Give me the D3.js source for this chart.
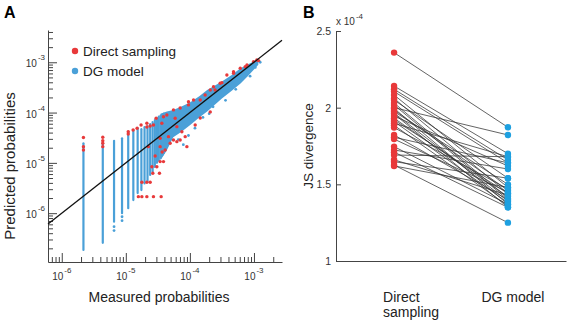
<!DOCTYPE html>
<html>
<head>
<meta charset="utf-8">
<script src="https://cdn.jsdelivr.net/npm/d3@7"></script>
<style>
  body { margin: 0; background: #fff; }
  svg { font-family: "Liberation Sans", Arial, sans-serif; }
</style>
</head>
<body>
<script>
// ---- panel A data ----
// DG model: vertical columns at the lowest measured counts
const colMeasured = [2.18e-6, 4.37e-6, 6.55e-6, 8.73e-6, 1.09e-5, 1.31e-5, 1.53e-5, 1.75e-5, 1.96e-5,
                     2.18e-5, 2.40e-5, 2.62e-5, 2.84e-5, 3.06e-5, 3.27e-5, 3.49e-5, 3.71e-5, 3.93e-5];
const colLow  = [1.86e-7, 2.57e-7, 6.76e-7, 1.0e-6, 1.26e-6, 1.82e-6, 2.51e-6, 2.88e-6, 3.89e-6,
                 4.27e-6, 5.75e-6, 6.76e-6, 8.32e-6, 1.0e-5, 1.12e-5, 1.26e-5, 1.41e-5, 1.58e-5];
const colHigh = [2.45e-5, 2.51e-5, 2.75e-5, 3.09e-5, 4.17e-5, 4.47e-5, 4.9e-5, 4.68e-5, 5.13e-5,
                 5.37e-5, 5.89e-5, 6.46e-5, 7.08e-5, 7.76e-5, 8.3e-5, 8.7e-5, 9.1e-5, 9.5e-5];
// DG model: dense cloud at higher measured probabilities
const bandMeasured = [3.47e-5, 4.37e-5, 5.5e-5, 7.4e-5, 1.0e-4, 1.4e-4, 1.86e-4, 3.16e-4, 4.5e-4, 6.17e-4, 8.0e-4, 1.0e-3, 1.17e-3];
const bandLow  = [1.12e-5, 1.78e-5, 3.24e-5, 4.17e-5, 5.6e-5, 8.0e-5, 1.05e-4, 1.9e-4, 2.7e-4, 3.8e-4, 5.3e-4, 7.2e-4, 8.9e-4];
const bandHigh = [9.5e-5, 1.05e-4, 1.12e-4, 1.32e-4, 1.58e-4, 2.1e-4, 2.82e-4, 4.17e-4, 5.6e-4, 7.6e-4, 9.0e-4, 1.05e-3, 1.12e-3];
// DG model: isolated points [measured, predicted]
const dgExtra = [[6.55e-6, 5.4e-7], [6.55e-6, 4.5e-7], [8.73e-6, 8.5e-7], [8.73e-6, 7.1e-7],
                 [9.5e-5, 3.5e-5], [7.9e-5, 2.3e-5], [1.6e-4, 8.0e-5], [2.3e-4, 1.3e-4],
                 [1.2e-4, 4.9e-5], [2.0e-4, 9.5e-5], [3.6e-4, 1.75e-4], [5.2e-4, 2.9e-4],
                 [8.7e-4, 5.3e-4], [1.05e-3, 7.9e-4], [1.25e-3, 1.0e-3], [6.6e-5, 2.9e-5]];
// direct sampling points [measured, predicted]
const directPoints = [
  [2.18e-6, 3.20e-5], [2.18e-6, 2.10e-5], [2.18e-6, 1.80e-5], [4.37e-6, 3.23e-5], [4.37e-6, 2.76e-5],
  [4.37e-6, 2.45e-5], [4.37e-6, 2.10e-5], [1.09e-5, 4.17e-5], [1.09e-5, 3.76e-5], [1.30e-5, 4.51e-5],
  [1.50e-5, 4.88e-5], [1.73e-5, 5.67e-5], [2.13e-5, 6.13e-5], [2.13e-5, 5.18e-5], [2.40e-5, 5.42e-5],
  [2.70e-5, 5.67e-5], [2.97e-5, 7.71e-5], [3.65e-5, 6.13e-5], [3.87e-5, 8.28e-5], [4.37e-5, 8.95e-5],
  [5.54e-5, 1.13e-4], [5.89e-5, 7.71e-5], [7.05e-5, 1.23e-4], [9.51e-5, 1.42e-4], [9.51e-5, 1.65e-4],
  [1.14e-4, 1.78e-4], [1.45e-4, 1.78e-4], [1.73e-4, 2.24e-4], [2.08e-4, 2.81e-4], [2.48e-4, 2.81e-4],
  [2.34e-4, 3.27e-4], [2.97e-4, 3.83e-4], [3.16e-4, 3.93e-4], [3.78e-4, 5.60e-4], [4.80e-4, 6.50e-4],
  [4.80e-4, 6.04e-4], [6.11e-4, 7.60e-4], [7.31e-4, 8.18e-4], [7.78e-4, 8.83e-4], [9.86e-4, 1.03e-3],
  [1.11e-3, 1.11e-3], [1.18e-3, 1.08e-3],
  [2.25e-5, 2.10e-5], [3.43e-5, 2.10e-5], [3.43e-5, 3.08e-5], [4.63e-5, 3.32e-5], [4.92e-5, 2.45e-5],
  [5.54e-5, 2.85e-5], [6.26e-5, 5.25e-5], [6.26e-5, 2.64e-5], [7.05e-5, 2.85e-5], [8.45e-5, 3.32e-5],
  [8.98e-5, 2.10e-5], [7.50e-5, 4.17e-5], [1.21e-4, 5.67e-5], [1.45e-4, 7.82e-5], [2.08e-4, 1.03e-4],
  [1.57e-5, 2.13e-6], [1.78e-5, 2.13e-6], [2.13e-5, 2.13e-6], [2.70e-5, 2.13e-6], [3.56e-5, 2.13e-6],
  [1.78e-5, 4.11e-6], [2.13e-5, 4.11e-6], [2.40e-5, 4.11e-6], [2.64e-5, 6.21e-6], [3.35e-5, 6.21e-6],
  [2.55e-5, 8.40e-6], [3.05e-5, 8.40e-6], [3.43e-5, 1.06e-5], [3.87e-5, 1.06e-5], [2.87e-5, 1.37e-5],
  [3.69e-5, 1.65e-5], [4.11e-5, 1.80e-5]
];
const decades = [1e-6, 1e-5, 1e-4, 1e-3];

// ---- panel B data (x 10^-4) ----
const groups = ["Direct sampling", "DG model"];
const jsDirect = [2.359, 2.141, 2.120, 2.105, 2.083, 2.060, 2.050, 2.030, 2.018, 2.000, 1.995,
                  1.985, 1.975, 1.965, 1.959, 1.945, 1.931, 1.920, 1.910, 1.898, 1.885, 1.870,
                  1.822, 1.807, 1.795, 1.746, 1.724, 1.710, 1.691, 1.660, 1.648, 1.626, 1.620];
const jsDG = [1.872, 1.700, 1.660, 1.640, 1.480, 1.440, 1.540, 1.410, 1.400, 1.822, 1.370,
              1.460, 1.500, 1.390, 1.350, 1.620, 1.420, 1.440, 1.380, 1.680, 1.360, 1.470,
              1.400, 1.640, 1.450, 1.370, 1.600, 1.350, 1.680, 1.430, 1.540, 1.250, 1.480];
const jsTicks = [1, 1.5, 2, 2.5];

const red = "#e8393a", blueA = "#4aa0d8", blueB = "#1ea0e0";

const svg = d3.select("body").append("svg")
  .attr("width", 567).attr("height", 321);

// ================= panel A =================
const xA = d3.scaleLog().domain([6.1e-7, 2.74e-3]).range([48, 282]);
const yA = d3.scaleLog().domain([1.07e-7, 4.38e-3]).range([262, 30]);
const isMajor = t => Math.abs(Math.log10(t) - Math.round(Math.log10(t))) < 1e-6;

const gA = svg.append("g");

// axes (ticks point inward)
gA.append("g").attr("transform", "translate(0,262)")
  .call(d3.axisBottom(xA).tickValues(xA.ticks().filter(t => !isMajor(t)))
    .tickSizeInner(-5).tickSizeOuter(0).tickFormat(""));
gA.append("g").attr("transform", "translate(0,262)")
  .call(d3.axisBottom(xA).tickValues(decades).tickSizeInner(-9).tickSizeOuter(0).tickFormat(""))
  .select(".domain").remove();
gA.append("g").attr("transform", "translate(48,0)")
  .call(d3.axisLeft(yA).tickValues(yA.ticks().filter(t => !isMajor(t)))
    .tickSizeInner(-5).tickSizeOuter(0).tickFormat(""));
gA.append("g").attr("transform", "translate(48,0)")
  .call(d3.axisLeft(yA).tickValues(decades).tickSizeInner(-9).tickSizeOuter(0).tickFormat(""))
  .select(".domain").remove();
gA.selectAll(".domain, .tick line").attr("stroke", "#444");

// tick labels 10^n
decades.forEach(d => {
  const e = Math.round(Math.log10(d));
  const tx = gA.append("text").attr("x", xA(d)).attr("y", 280)
    .attr("text-anchor", "middle").attr("font-size", 10).attr("fill", "#333");
  tx.append("tspan").text("10");
  tx.append("tspan").attr("dx", 1).attr("dy", -7).attr("font-size", 8).text(e);
  const ty = gA.append("text").attr("x", 45).attr("y", yA(d) + 5)
    .attr("text-anchor", "end").attr("font-size", 10).attr("fill", "#333");
  ty.append("tspan").text("10");
  ty.append("tspan").attr("dx", 1).attr("dy", -7).attr("font-size", 8).text(e);
});

// DG cloud
gA.append("path")
  .datum(bandMeasured.map((m, i) => ({ m, lo: bandLow[i], hi: bandHigh[i] })))
  .attr("fill", blueA)
  .attr("d", d3.area().x(d => xA(d.m)).y0(d => yA(d.lo)).y1(d => yA(d.hi)));

// DG columns
gA.selectAll("line.col")
  .data(colMeasured)
  .enter().append("line").attr("class", "col")
  .attr("x1", d => xA(d)).attr("x2", d => xA(d))
  .attr("y1", (d, i) => yA(colLow[i])).attr("y2", (d, i) => yA(colHigh[i]))
  .attr("stroke", blueA).attr("stroke-width", 2.2).attr("stroke-linecap", "round");

gA.selectAll("circle.dg")
  .data(dgExtra)
  .enter().append("circle").attr("class", "dg")
  .attr("cx", d => xA(d[0])).attr("cy", d => yA(d[1])).attr("r", 1.4)
  .attr("fill", blueA);

// direct sampling
gA.selectAll("circle.ds")
  .data(directPoints)
  .enter().append("circle").attr("class", "ds")
  .attr("cx", d => xA(d[0])).attr("cy", d => yA(d[1])).attr("r", 1.7)
  .attr("fill", red);

// identity line
gA.append("line")
  .attr("x1", xA(xA.domain()[0])).attr("y1", yA(xA.domain()[0]))
  .attr("x2", xA(xA.domain()[1])).attr("y2", yA(xA.domain()[1]))
  .attr("stroke", "#111").attr("stroke-width", 1.3);

// legend
[["Direct sampling", red], ["DG model", blueA]].forEach(([label, c], i) => {
  gA.append("circle").attr("cx", 75).attr("cy", 51 + i * 20).attr("r", 3.2).attr("fill", c);
  gA.append("text").attr("x", 83).attr("y", 56 + i * 20).attr("font-size", 13.5)
    .attr("fill", "#222").text(label);
});

gA.append("text").attr("x", 159).attr("y", 302).attr("text-anchor", "middle")
  .attr("font-size", 14).attr("fill", "#222").text("Measured probabilities");
gA.append("text").attr("transform", "translate(15,166) rotate(-90)").attr("text-anchor", "middle")
  .attr("font-size", 15).attr("fill", "#222").text("Predicted probabilities");
gA.append("text").attr("x", 4).attr("y", 18).attr("font-size", 16).attr("font-weight", "bold")
  .text("A");

// ================= panel B =================
const xB = d3.scalePoint().domain(groups).range([336, 566]).padding(0.51);
const yB = d3.scaleLinear().domain([1, 2.5]).range([261, 31]);
const gB = svg.append("g");

gB.append("g").attr("transform", "translate(336,0)")
  .call(d3.axisLeft(yB).tickValues(jsTicks).tickSizeInner(-5).tickSizeOuter(0)
    .tickPadding(5).tickFormat(d => d))
  .call(g => g.selectAll("text").attr("font-size", 10.5).attr("fill", "#333")
    .attr("font-family", "Liberation Sans, Arial, sans-serif"));
gB.append("g").attr("transform", "translate(0,261)")
  .call(d3.axisBottom(xB).tickValues([]).tickSizeOuter(0));
gB.selectAll(".domain, .tick line").attr("stroke", "#444");

const exp = gB.append("text").attr("x", 336).attr("y", 25).attr("font-size", 10).attr("fill", "#333");
exp.append("tspan").text("x 10");
exp.append("tspan").attr("dx", 1).attr("dy", -6).attr("font-size", 8).text("-4");

gB.selectAll("line.pair")
  .data(jsDirect)
  .enter().append("line").attr("class", "pair")
  .attr("x1", xB(groups[0])).attr("y1", d => yB(d))
  .attr("x2", xB(groups[1])).attr("y2", (d, i) => yB(jsDG[i]))
  .attr("stroke", "#333").attr("stroke-width", 0.9).attr("stroke-opacity", 0.85);

gB.selectAll("circle.ds")
  .data(jsDirect)
  .enter().append("circle").attr("class", "ds")
  .attr("cx", xB(groups[0])).attr("cy", d => yB(d)).attr("r", 3.2).attr("fill", red);
gB.selectAll("circle.dg")
  .data(jsDG)
  .enter().append("circle").attr("class", "dg")
  .attr("cx", xB(groups[1])).attr("cy", d => yB(d)).attr("r", 3.2).attr("fill", blueB);

// category labels
const lab1 = gB.append("text").attr("x", xB(groups[0]) - 11).attr("y", 302)
  .attr("font-size", 14).attr("fill", "#222");
lab1.append("tspan").text("Direct");
lab1.append("tspan").attr("x", xB(groups[0]) - 11).attr("dy", 15).text("sampling");
gB.append("text").attr("x", xB(groups[1]) + 5).attr("y", 302).attr("text-anchor", "middle")
  .attr("font-size", 14).attr("fill", "#222").text(groups[1]);

gB.append("text").attr("transform", "translate(313,146) rotate(-90)").attr("text-anchor", "middle")
  .attr("font-size", 13.5).attr("fill", "#222").text("JS divergence");
gB.append("text").attr("x", 303).attr("y", 18).attr("font-size", 16).attr("font-weight", "bold")
  .text("B");
</script>
</body>
</html>
